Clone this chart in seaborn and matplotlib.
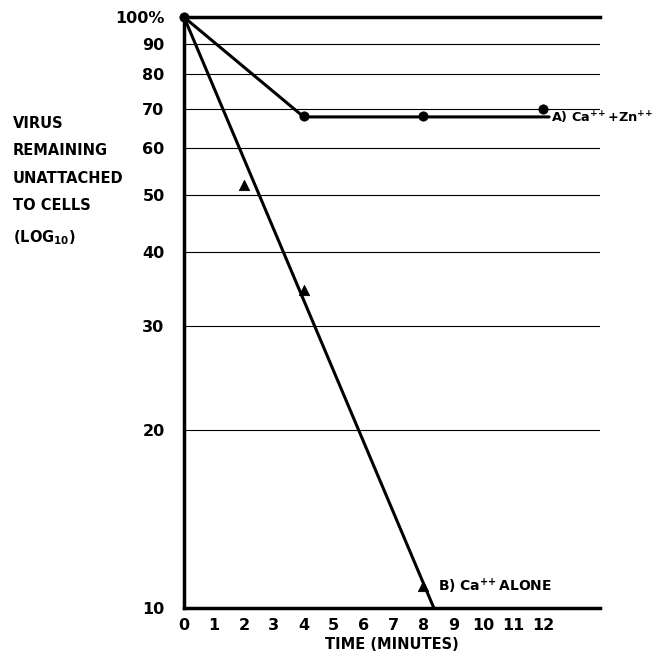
import matplotlib
matplotlib.use("Agg")
import matplotlib.pyplot as plt
import seaborn as sns
import pandas as pd

# measured points
time_a = [0, 4, 8, 12]
virus_a = [100, 68, 68, 70]
time_b = [2, 4, 8]
virus_b = [52, 34.5, 10.9]

# drawn fit lines
fit_a_time = [0, 4, 12.2]
fit_a = [100, 67.8, 67.8]
fit_b_time = [0, 8.35]
fit_b = [100, 10]

y_ticks = [10, 20, 30, 40, 50, 60, 70, 80, 90, 100]
y_labels = ["10", "20", "30", "40", "50", "60", "70", "80", "90", "100%"]
x_ticks = list(range(13))

sns.set_style("white")
plt.rcParams["font.family"] = ["DejaVu Sans"]
plt.rcParams["font.weight"] = "bold"
plt.rcParams["mathtext.default"] = "bf"
plt.rcParams["text.color"] = "black"
plt.rcParams["axes.labelcolor"] = "black"
plt.rcParams["xtick.color"] = "black"
plt.rcParams["ytick.color"] = "black"

fig = plt.figure(figsize=(6.55, 6.61), dpi=100)
ax = fig.add_axes([0.281, 0.080, 0.635, 0.894])
ax.set_yscale("log")

for y in y_ticks[1:-1]:
    ax.axhline(y, color="black", lw=0.8, zorder=1)

df_a = pd.DataFrame({"t": fit_a_time, "v": fit_a})
df_b = pd.DataFrame({"t": fit_b_time, "v": fit_b})
sns.lineplot(data=df_a, x="t", y="v", ax=ax, color="black", lw=2.2, clip_on=False, zorder=3)
sns.lineplot(data=df_b, x="t", y="v", ax=ax, color="black", lw=2.2, clip_on=False, zorder=3)

pts_a = pd.DataFrame({"t": time_a, "v": virus_a})
pts_b = pd.DataFrame({"t": time_b, "v": virus_b})
sns.scatterplot(data=pts_a, x="t", y="v", ax=ax, color="black", marker="o", s=45,
                edgecolor="black", clip_on=False, zorder=4)
sns.scatterplot(data=pts_b, x="t", y="v", ax=ax, color="black", marker="^", s=55,
                edgecolor="black", clip_on=False, zorder=4)

ax.set_xlim(0, 13.9)
ax.set_ylim(10, 100)
ax.set_yticks(y_ticks)
ax.set_yticklabels(y_labels)
ax.minorticks_off()
ax.set_xticks(x_ticks)
ax.set_xticklabels([str(x) for x in x_ticks])
ax.tick_params(length=0, labelsize=11.5)
ax.tick_params(axis="x", pad=7)
ax.tick_params(axis="y", pad=14)
for lab in ax.get_xticklabels() + ax.get_yticklabels():
    lab.set_fontweight("bold")

for side in ["left", "bottom", "top"]:
    ax.spines[side].set_linewidth(2.5)
    ax.spines[side].set_color("black")
ax.spines["right"].set_visible(False)

ax.set_xlabel("TIME (MINUTES)", fontsize=10.5, fontweight="bold", labelpad=3)
ax.set_ylabel("")

fig.text(0.02, 0.825, "VIRUS\nREMAINING\nUNATTACHED\nTO CELLS\n(LOG$_{10}$)",
         fontsize=10.5, fontweight="bold", va="top", ha="left", linespacing=2.05)

ax.text(12.25, 67.5, r"A) Ca$^{+\!+}$+Zn$^{+\!+}$", fontsize=9.3, fontweight="bold",
        va="center", ha="left")
ax.text(8.5, 10.9, r"B) Ca$^{+\!+}$ALONE", fontsize=10, fontweight="bold",
        va="center", ha="left")

fig.savefig("out.png", dpi=100)
